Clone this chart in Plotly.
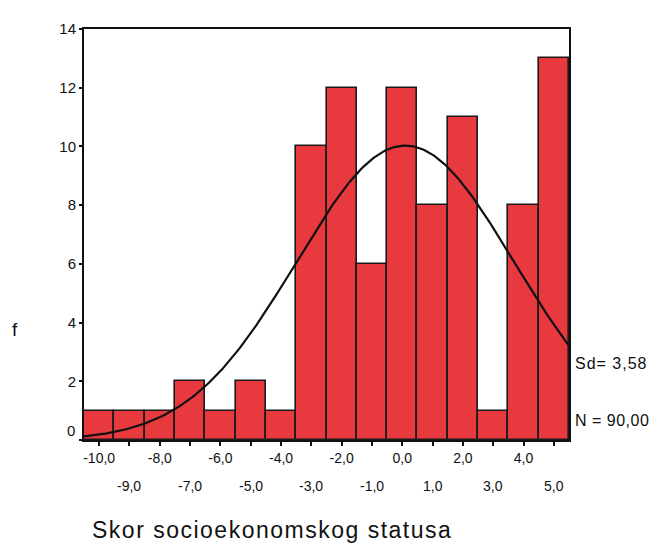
import numpy as np
import plotly.graph_objects as go

# Data
bin_centers = [-10, -9, -8, -7, -6, -5, -4, -3, -2, -1, 0, 1, 2, 3, 4, 5]
frequencies = [1, 1, 1, 2, 1, 2, 1, 10, 12, 6, 12, 8, 11, 1, 8, 13]
tick_labels = ["-10,0", "-9,0", "-8,0", "-7,0", "-6,0", "-5,0", "-4,0", "-3,0",
               "-2,0", "-1,0", "0,0", "1,0", "2,0", "3,0", "4,0", "5,0"]
y_ticks = [0, 2, 4, 6, 8, 10, 12, 14]
sd_value = 3.58
n_value = 90
bin_width = 1.0

mean_value = sum(c * f for c, f in zip(bin_centers, frequencies)) / sum(frequencies)

# Normal curve fitted to the histogram
xs = np.linspace(bin_centers[0] - 0.5, bin_centers[-1] + 0.5, 300)
ys = n_value * bin_width / (sd_value * np.sqrt(2 * np.pi)) * np.exp(-0.5 * ((xs - mean_value) / sd_value) ** 2)

FONT = "Liberation Sans, Arial, sans-serif"
INK = "#111111"

fig = go.Figure()
fig.add_trace(go.Bar(
    x=bin_centers, y=frequencies, width=bin_width,
    marker=dict(color="#E8393F", line=dict(color="#1a1a1a", width=1.6)),
    showlegend=False, hoverinfo="skip",
))
fig.add_trace(go.Scatter(
    x=xs, y=ys, mode="lines", line=dict(color=INK, width=2.2),
    showlegend=False, hoverinfo="skip",
))

even_text = [t if i % 2 == 0 else "" for i, t in enumerate(tick_labels)]
y_text = ["" if v == 0 else str(v) for v in y_ticks]

annotations = []
for i, (c, t) in enumerate(zip(bin_centers, tick_labels)):
    if i % 2 == 1:
        annotations.append(dict(x=c, y=0, xref="x", yref="y", text=t, showarrow=False,
                                yshift=-46, font=dict(family=FONT, size=14, color=INK)))
annotations += [
    # the "0" label of the y axis sits slightly raised, as in the original
    dict(x=0, y=y_ticks[0], xref="paper", yref="y", text=str(y_ticks[0]), showarrow=False,
         xanchor="right", xshift=-7, yshift=10, font=dict(family=FONT, size=15, color=INK)),
    dict(x=0, y=3.75, xref="paper", yref="y", text="f", showarrow=False,
         xanchor="center", xshift=-69, font=dict(family=FONT, size=19, color=INK)),
    dict(x=1, y=2.6, xref="paper", yref="y",
         text='<span style="letter-spacing:1px">Sd= 3,58</span>', showarrow=False, xanchor="left",
         xshift=4, font=dict(family=FONT, size=16, color=INK)),
    dict(x=1, y=0.67, xref="paper", yref="y",
         text='<span style="letter-spacing:0.5px">N = 90,00</span>', showarrow=False, xanchor="left",
         xshift=4, font=dict(family=FONT, size=16, color=INK)),
    dict(x=0, y=0, xref="paper", yref="y",
         text='<span style="letter-spacing:1.5px">Skor socioekonomskog statusa</span>', showarrow=False,
         xanchor="left", yanchor="middle", xshift=6, yshift=-90,
         font=dict(family=FONT, size=23, color=INK)),
]

fig.update_layout(
    width=651, height=536,
    margin=dict(l=76, r=90, t=17, b=104),
    paper_bgcolor="white", plot_bgcolor="white",
    bargap=0,
    font=dict(family=FONT, color=INK),
    xaxis=dict(
        range=[bin_centers[0] - 0.5, bin_centers[-1] + 0.5],
        tickmode="array", tickvals=bin_centers, ticktext=even_text,
        ticks="outside", ticklen=4, tickwidth=2, tickcolor=INK,
        showline=True, linecolor=INK, linewidth=2, mirror=True,
        showgrid=False, zeroline=False,
        tickfont=dict(family=FONT, size=14, color=INK),
    ),
    yaxis=dict(
        range=[0, 14], tickmode="array", tickvals=y_ticks, ticktext=y_text,
        ticks="outside", ticklen=3, tickwidth=2, tickcolor=INK,
        showline=True, linecolor=INK, linewidth=2, mirror=True,
        showgrid=False, zeroline=False,
        tickfont=dict(family=FONT, size=15, color=INK),
    ),
    annotations=annotations,
)

fig.write_html("out.html")
